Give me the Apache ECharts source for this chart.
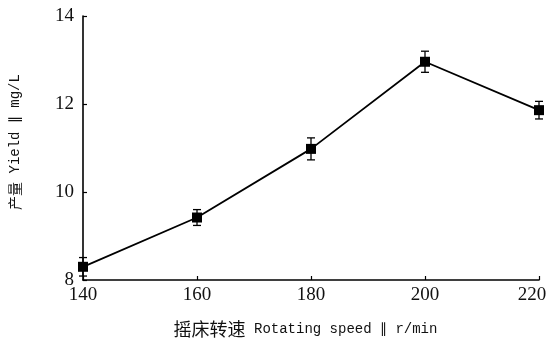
<!DOCTYPE html>
<html>
<head>
<meta charset="utf-8">
<script src="https://cdn.jsdelivr.net/npm/echarts@6/dist/echarts.min.js"></script>
<style>html,body{margin:0;padding:0;background:#fff;}#c{width:548px;height:340px;}</style>
</head>
<body>
<div id="c"></div>
<script>
var speeds = [140, 160, 180, 200, 220];
var yields = [8.30, 9.42, 10.98, 12.96, 11.86];
var errors = [0.21, 0.18, 0.25, 0.24, 0.20];
var yTicks = [8, 10, 12, 14];
var xNameCn = '摇床转速';
var xNameEn = ' Rotating speed ∥ r/min';
var yNameCn = '产量';
var yNameEn = ' Yield ∥ mg/L';

var chart = echarts.init(document.getElementById('c'), null, {renderer: 'canvas'});
var lineData = speeds.map(function (s, i) { return [s, yields[i]]; });
var errData = speeds.map(function (s, i) { return [s, yields[i] - errors[i], yields[i] + errors[i]]; });
var txt = '#111';
var cjk = '"Noto Sans CJK SC", sans-serif';
var mono = '"Liberation Mono", "DejaVu Sans Mono", monospace';
var serif = '"Liberation Serif", serif';

chart.setOption({
  animation: false,
  backgroundColor: '#fff',
  grid: {left: 83, right: 9, top: 16, bottom: 60, outerBoundsMode: 'none'},
  xAxis: {
    type: 'value', min: 140, max: 220, interval: 20,
    name: '{c|' + xNameCn + '}{l|' + xNameEn + '}', nameLocation: 'middle', nameGap: 40,
    nameTextStyle: {
      color: txt, padding: [0, 11, 0, 0],
      rich: {
        c: {fontFamily: cjk, fontSize: 18, color: txt},
        l: {fontFamily: mono, fontSize: 14, color: txt}
      }
    },
    axisLine: {show: true, lineStyle: {color: '#000', width: 1.6}},
    axisTick: {show: true, inside: true, length: 4, lineStyle: {color: '#000', width: 1.2}},
    axisLabel: {
      fontFamily: serif, fontSize: 19, color: txt, margin: 6,
      formatter: function (v) { return v === 220 ? '{r|' + v + '}' : String(v); },
      rich: {r: {fontFamily: serif, fontSize: 19, color: txt, padding: [0, 14, 0, 0]}}
    },
    splitLine: {show: false}
  },
  yAxis: {
    type: 'value', min: 8, max: 14, interval: 2,
    name: '{c|' + yNameCn + '}{l|' + yNameEn + '}', nameLocation: 'middle', nameGap: 61, nameRotate: 90,
    nameTextStyle: {
      color: txt, padding: [0, 0, 0, 12],
      rich: {
        c: {fontFamily: cjk, fontSize: 14, color: txt},
        l: {fontFamily: mono, fontSize: 14, color: txt}
      }
    },
    axisLine: {show: true, lineStyle: {color: '#000', width: 1.6}},
    axisTick: {show: true, inside: true, length: 4, lineStyle: {color: '#000', width: 1.2}},
    axisLabel: {fontFamily: serif, fontSize: 19, color: txt, margin: 9,
      formatter: function (v) { return yTicks.indexOf(v) >= 0 ? String(v) : ''; }},
    splitLine: {show: false}
  },
  series: [
    {
      type: 'line', data: lineData, symbol: 'rect', symbolSize: 10,
      lineStyle: {color: '#000', width: 1.8},
      itemStyle: {color: '#000'}, z: 3
    },
    {
      type: 'custom', data: errData, z: 4,
      renderItem: function (params, api) {
        var x = api.value(0);
        var lo = api.coord([x, api.value(1)]);
        var hi = api.coord([x, api.value(2)]);
        var hw = 4;
        var st = {stroke: '#000', lineWidth: 1.3, fill: null};
        return {
          type: 'group',
          children: [
            {type: 'line', shape: {x1: lo[0], y1: lo[1], x2: hi[0], y2: hi[1]}, style: st},
            {type: 'line', shape: {x1: lo[0] - hw, y1: lo[1], x2: lo[0] + hw, y2: lo[1]}, style: st},
            {type: 'line', shape: {x1: hi[0] - hw, y1: hi[1], x2: hi[0] + hw, y2: hi[1]}, style: st}
          ]
        };
      }
    }
  ]
});
</script>
</body>
</html>
